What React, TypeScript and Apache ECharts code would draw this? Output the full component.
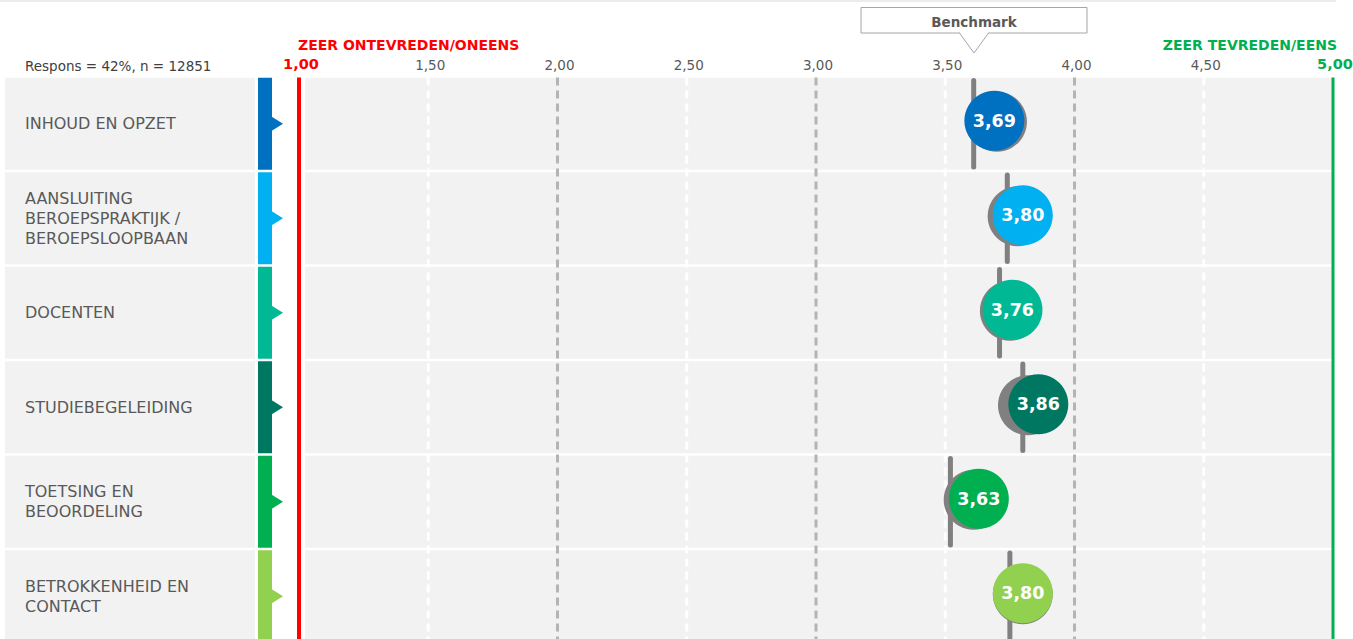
import React, { useEffect, useRef } from "react";
import * as echarts from "echarts";

const categories = [
  "INHOUD EN OPZET",
  "AANSLUITING\nBEROEPSPRAKTIJK /\nBEROEPSLOOPBAAN",
  "DOCENTEN",
  "STUDIEBEGELEIDING",
  "TOETSING EN\nBEOORDELING",
  "BETROKKENHEID EN\nCONTACT",
];
const scores = [3.69, 3.8, 3.76, 3.86, 3.63, 3.8];
const benchmarks = [3.61, 3.74, 3.71, 3.8, 3.52, 3.75];
const previous = [3.7, 3.78, 3.75, 3.82, 3.61, 3.8];
const rowColors = ["#0070C0", "#00B0F0", "#00B894", "#007760", "#00B050", "#92D050"];
const tickValues = [1, 1.5, 2, 2.5, 3, 3.5, 4, 4.5, 5];
const responseText = "Respons = 42%, n = 12851";
const lowLabel = "ZEER ONTEVREDEN/ONEENS";
const highLabel = "ZEER TEVREDEN/EENS";
const benchmarkLabel = "Benchmark";

const FONT = "'DejaVu Sans', Verdana, sans-serif";
const GRID_TOP = 76.5;
const GRID_H = 567;
const fmt = (v: number) => v.toFixed(2).replace(".", ",");

function buildOption(): any {
  return {
    animation: false,
    backgroundColor: "#ffffff",
    grid: [
      { left: 5, top: GRID_TOP, width: 250, height: GRID_H, outerBoundsMode: "none", containLabel: false },
      { left: 299, top: GRID_TOP, width: 1034, height: GRID_H, outerBoundsMode: "none", containLabel: false },
    ],
    xAxis: [
      { gridIndex: 0, type: "value", min: 0, max: 1, show: false },
      {
        gridIndex: 1,
        type: "value",
        min: 1,
        max: 5,
        interval: 0.5,
        position: "top",
        axisLine: { show: false },
        axisTick: { show: false },
        splitLine: { show: false },
        axisLabel: {
          margin: 5,
          color: "#595959",
          fontSize: 13.5,
          fontFamily: FONT,
          padding: [0, 0, 0, 4],
          formatter: (v: number) => {
            const s = fmt(v);
            if (v === 1) return `{lo|${s}}`;
            if (v === 5) return `{hi|${s}}`;
            return s;
          },
          rich: {
            lo: { color: "#FF0000", fontWeight: "bold", fontSize: 14.5, fontFamily: FONT },
            hi: { color: "#00B050", fontWeight: "bold", fontSize: 14.5, fontFamily: FONT },
          },
        },
      },
    ],
    yAxis: [
      {
        gridIndex: 0,
        type: "category",
        inverse: true,
        data: categories,
        z: 10,
        axisLine: { show: false },
        axisTick: { show: false },
        axisLabel: {
          inside: true,
          margin: 20,
          align: "left",
          color: "#595959",
          fontSize: 16,
          lineHeight: 20,
          fontFamily: FONT,
          padding: [7, 0, 0, 0],
        },
      },
      {
        gridIndex: 1,
        type: "category",
        inverse: true,
        data: categories,
        show: false,
      },
    ],
    graphic: [
      { type: "line", shape: { x1: 0, y1: 1, x2: 1336, y2: 1 }, style: { stroke: "#ececec", lineWidth: 2 } },
      {
        type: "text",
        left: 25,
        top: 59,
        style: { text: responseText, fill: "#404040", fontSize: 13.5, fontFamily: FONT },
      },
      {
        type: "text",
        left: 298,
        top: 38,
        style: { text: lowLabel, fill: "#FF0000", fontSize: 14, fontWeight: "bold", fontFamily: FONT },
      },
      {
        type: "text",
        right: 16,
        top: 38,
        style: { text: highLabel, fill: "#00B050", fontSize: 14, fontWeight: "bold", fontFamily: FONT },
      },
      {
        type: "rect",
        shape: { x: 861, y: 7.5, width: 226, height: 25.5 },
        style: { fill: "#ffffff", stroke: "#a6a6a6", lineWidth: 1 },
      },
      { type: "line", shape: { x1: 960, y1: 33, x2: 988, y2: 33 }, style: { stroke: "#ffffff", lineWidth: 2 } },
      {
        type: "polyline",
        shape: { points: [[959.5, 33], [974, 53], [988.5, 33]] },
        style: { stroke: "#a6a6a6", lineWidth: 1, fill: null },
      },
      {
        type: "text",
        x: 974,
        y: 22,
        style: {
          text: benchmarkLabel,
          fill: "#595959",
          fontSize: 13.5,
          fontWeight: "bold",
          fontFamily: FONT,
          align: "center",
          verticalAlign: "middle",
        },
      },
    ],
    series: [
      {
        type: "custom",
        name: "labelPanel",
        xAxisIndex: 0,
        yAxisIndex: 0,
        z: 1,
        clip: false,
        silent: true,
        data: categories.map((_, i) => [0, i]),
        renderItem: (params: any, api: any) => {
          const cs = params.coordSys;
          const c = api.coord([0, api.value(1)]);
          const band = api.size([0, 1])[1];
          return {
            type: "rect",
            shape: { x: cs.x, y: c[1] - band / 2 + 1.3, width: cs.width, height: band - 2.6 },
            style: { fill: "#f2f2f2" },
          };
        },
      },
      {
        type: "custom",
        name: "rows",
        xAxisIndex: 1,
        yAxisIndex: 1,
        z: 1,
        clip: false,
        silent: true,
        data: categories.map((_, i) => [1, i]),
        renderItem: (params: any, api: any) => {
          const idx = params.dataIndex;
          const c0 = api.coord([1, api.value(1)]);
          const c1 = api.coord([5, api.value(1)]);
          const band = api.size([0, 1])[1];
          const top = c0[1] - band / 2 + 1.3;
          const h = band - 2.6;
          const x0 = c0[0];
          return {
            type: "group",
            children: [
              {
                type: "rect",
                shape: { x: x0 + 6, y: top, width: c1[0] - x0 - 6, height: h },
                style: { fill: "#f2f2f2" },
              },
              {
                type: "rect",
                shape: { x: x0 - 41, y: top, width: 14, height: h },
                style: { fill: rowColors[idx] },
              },
              {
                type: "polygon",
                shape: {
                  points: [
                    [x0 - 28, c0[1] - 7.5],
                    [x0 - 16, c0[1]],
                    [x0 - 28, c0[1] + 7.5],
                  ],
                },
                style: { fill: rowColors[idx] },
              },
            ],
          };
        },
      },
      {
        type: "custom",
        name: "gridlines",
        xAxisIndex: 1,
        yAxisIndex: 1,
        z: 2,
        clip: false,
        silent: true,
        data: tickValues.map((v) => [v, 0]),
        renderItem: (params: any, api: any) => {
          const cs = params.coordSys;
          const v = api.value(0);
          const x = api.coord([v, 0])[0];
          let stroke = "#ffffff";
          let lineDash: any = [8, 5];
          let lineWidth = 3;
          if (v === 1) {
            stroke = "#FF0000";
            lineDash = null;
            lineWidth = 4;
          } else if (v === 5) {
            stroke = "#00B050";
            lineDash = null;
            lineWidth = 3;
          } else if (Number.isInteger(v)) {
            stroke = "#b4b4b4";
          }
          return {
            type: "line",
            shape: { x1: x, y1: cs.y + 1, x2: x, y2: cs.y + cs.height },
            style: { stroke, lineWidth, lineDash },
          };
        },
      },
      {
        type: "custom",
        name: "Benchmark",
        xAxisIndex: 1,
        yAxisIndex: 1,
        z: 3,
        clip: false,
        data: benchmarks.map((v, i) => [v, i]),
        renderItem: (params: any, api: any) => {
          const c = api.coord([api.value(0), api.value(1)]);
          const band = api.size([0, 1])[1];
          return {
            type: "line",
            shape: { x1: c[0], y1: c[1] - band / 2 + 4, x2: c[0], y2: c[1] + band / 2 - 4 },
            style: { stroke: "#808080", lineWidth: 5, lineCap: "round" },
          };
        },
      },
      {
        type: "scatter",
        name: "Vorige",
        xAxisIndex: 1,
        yAxisIndex: 1,
        z: 4,
        symbol: "circle",
        symbolSize: 60,
        symbolOffset: [0, -2],
        itemStyle: { color: "#808080", opacity: 1 },
        data: previous.map((v, i) => [v, i]),
      },
      {
        type: "scatter",
        name: "Score",
        xAxisIndex: 1,
        yAxisIndex: 1,
        z: 5,
        symbol: "circle",
        symbolSize: 60,
        symbolOffset: [0, -3],
        itemStyle: { opacity: 1 },
        data: scores.map((v, i) => ({ value: [v, i], itemStyle: { color: rowColors[i], opacity: 1 } })),
        label: {
          show: true,
          position: "inside",
          color: "#ffffff",
          fontWeight: "bold",
          fontSize: 17.5,
          fontFamily: FONT,
          formatter: (p: any) => fmt(p.value[0]),
        },
      },
    ],
  };
}

export default function App() {
  const ref = useRef<HTMLDivElement>(null);
  useEffect(() => {
    const chart = echarts.init(ref.current!, null, { renderer: "svg" });
    chart.setOption(buildOption());
    return () => {
      chart.dispose();
    };
  }, []);
  return (
    <div
      ref={ref}
      style={{ position: "absolute", left: 0, top: 0, width: 1353, height: 645, background: "#ffffff" }}
    />
  );
}
